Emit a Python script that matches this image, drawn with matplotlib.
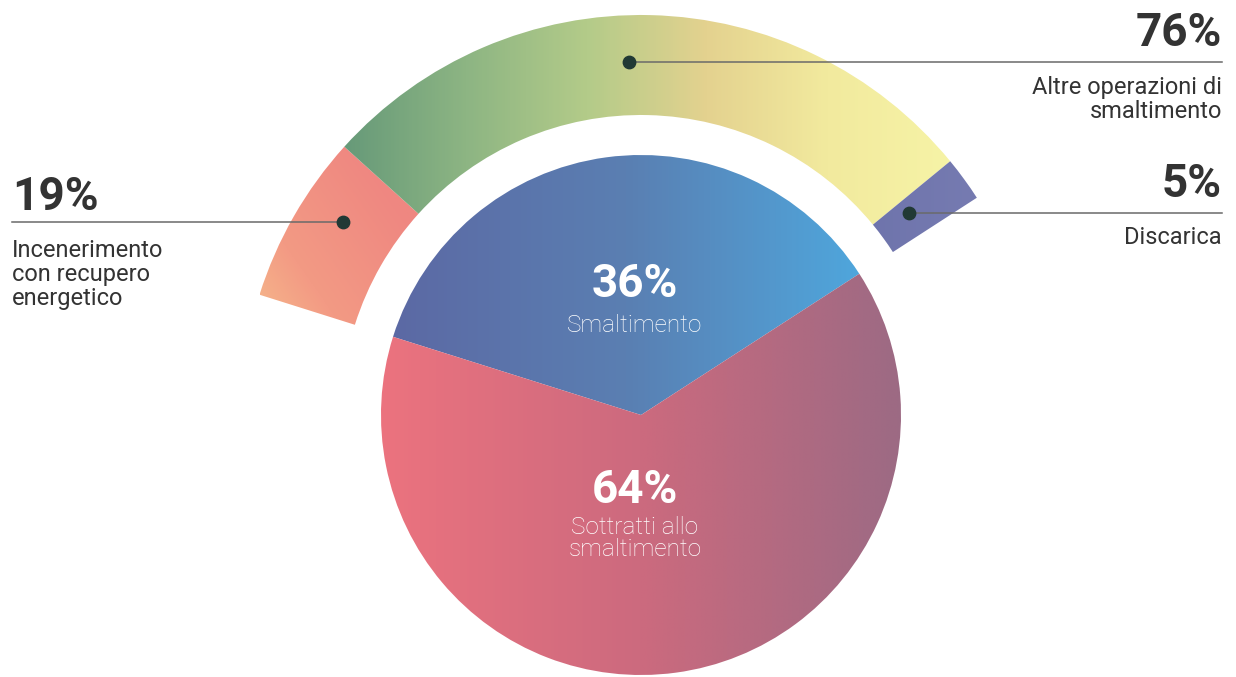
import numpy as np
import matplotlib.pyplot as plt
from matplotlib.colors import LinearSegmentedColormap

plt.rcParams['font.family'] = ['Roboto', 'DejaVu Sans']

# data
main_labels = ['Smaltimento', 'Sottratti allo\nsmaltimento']
main_values = [36, 64]
sub_labels = ['Incenerimento\ncon recupero\nenergetico', 'Altre operazioni di\nsmaltimento', 'Discarica']
sub_values = [19, 76, 5]

W, H = 1236, 677
fig = plt.figure(figsize=(12.36, 6.77), dpi=100)
ax = fig.add_axes([0, 0, 1, 1])

cx, cy = 641, H - 415
start = 162.5

# inner pie and the outer ring that splits the 36% slice
pie_wedges, _ = ax.pie(main_values, radius=260, center=(cx, cy),
                       startangle=start, counterclock=False)
ring_frac = [v / 100 * main_values[0] / 100 for v in sub_values]
ring_wedges, _ = ax.pie(ring_frac, radius=400, center=(cx, cy), startangle=start,
                        counterclock=False, normalize=False,
                        wedgeprops=dict(width=100))


def fill_gradient(patch, colors, angle=0):
    # paint a linear gradient clipped to the wedge shape
    cmap = LinearSegmentedColormap.from_list('g', colors)
    v = patch.get_path().vertices
    x0, y0 = v.min(axis=0)
    x1, y1 = v.max(axis=0)
    X, Y = np.meshgrid(np.linspace(x0, x1, 300), np.linspace(y0, y1, 300))
    a = np.radians(angle)
    t = (X - x0) * np.cos(a) + (Y - y0) * np.sin(a)
    t = (t - t.min()) / (t.max() - t.min())
    im = ax.imshow(cmap(t), extent=[x0, x1, y0, y1], origin='lower',
                   interpolation='bilinear', zorder=1)
    im.set_clip_path(patch)
    patch.set_facecolor('none')


fill_gradient(pie_wedges[0], ['#5c69a4', '#5a7fb2', '#4fa6dc'])
fill_gradient(pie_wedges[1], ['#ec737f', '#cc6a7e', '#9c6a84'])
fill_gradient(ring_wedges[0], ['#f8cf90', '#f39a84', '#ef8781', '#ef8781', '#ef8781'],
              angle=35)
fill_gradient(ring_wedges[1], ['#679a79', '#8db583', '#b3cb89', '#e4d28f',
                               '#f2ea9e', '#f6f3a6'])
fill_gradient(ring_wedges[2], ['#5e65a1', '#767bb1'])

# dots sit inside the ring, leader lines run out to the labels
dot_angles = [147, 92, 37]
dot_r = [355, 353, 336]
dots = [(cx + r * np.cos(np.radians(a)), cy + r * np.sin(np.radians(a)))
        for a, r in zip(dot_angles, dot_r)]

line_c = '#6a6a6a'
ax.plot([12, dots[0][0]], [dots[0][1]] * 2, color=line_c, lw=1.1, zorder=3)
ax.plot([dots[1][0], 1222], [dots[1][1]] * 2, color=line_c, lw=1.1, zorder=3)
ax.plot([dots[2][0], 1222], [dots[2][1]] * 2, color=line_c, lw=1.1, zorder=3)
ax.scatter([d[0] for d in dots], [d[1] for d in dots], s=80, color='#213935', zorder=4)

dark = '#333333'
ax.text(12, H - 210, f'{sub_values[0]}%', fontsize=33, fontweight='bold', color=dark,
        ha='left', va='baseline')
ax.text(12, H - 239, sub_labels[0], fontsize=17, color=dark, ha='left', va='top',
        linespacing=1.06)
ax.text(1222, H - 46, f'{sub_values[1]}%', fontsize=33, fontweight='bold', color=dark,
        ha='right', va='baseline')
ax.text(1222, H - 76, sub_labels[1], fontsize=17, color=dark, ha='right', va='top',
        multialignment='right', linespacing=1.06)
ax.text(1222, H - 197, f'{sub_values[2]}%', fontsize=33, fontweight='bold', color=dark,
        ha='right', va='baseline')
ax.text(1222, H - 226, sub_labels[2], fontsize=17, color=dark, ha='right', va='top')

# labels inside the pie
ax.text(635, H - 297, f'{main_values[0]}%', fontsize=33, fontweight='bold', color='white',
        ha='center', va='baseline')
ax.text(635, H - 325, main_labels[0], fontsize=17.5, fontweight='light', color='white',
        ha='center', va='center')
ax.text(635, H - 503, f'{main_values[1]}%', fontsize=33, fontweight='bold', color='white',
        ha='center', va='baseline')
ax.text(635, H - 516, main_labels[1], fontsize=17.5, fontweight='light', color='white',
        ha='center', va='top', linespacing=0.97)

ax.set_xlim(0, W)
ax.set_ylim(0, H)
ax.set_aspect('equal')
ax.axis('off')

fig.savefig('out.png', dpi=100, facecolor='white')
